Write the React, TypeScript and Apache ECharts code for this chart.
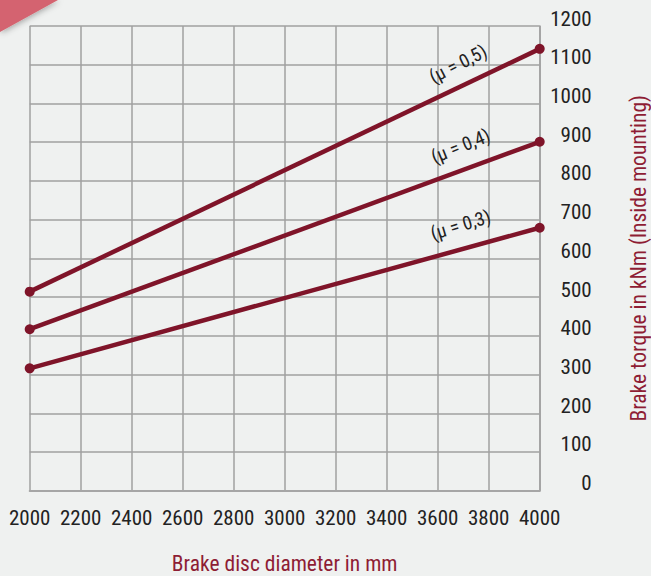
import React, { useEffect, useRef } from "react";
import * as echarts from "echarts";

const diameters = [2000, 4000];
const seriesNames = ["(μ = 0,5)", "(μ = 0,4)", "(μ = 0,3)"];
const torque05 = [514, 1141];
const torque04 = [417, 901];
const torque03 = [316, 679];
const xTicks = [2000, 2200, 2400, 2600, 2800, 3000, 3200, 3400, 3600, 3800, 4000];
const yTicks = [0, 100, 200, 300, 400, 500, 600, 700, 800, 900, 1000, 1100, 1200];
const labelAnchors = [
  [3680, 1102],
  [3690, 890],
  [3690, 686],
];
const labelRotations = [27, 22, 17];

const FONT = "'Liberation Sans Narrow', 'Roboto Condensed', 'DejaVu Sans Condensed', Roboto, sans-serif";
const LINE = "#7f1429";
const TITLE = "#8e1d34";

export default function App() {
  const ref = useRef<HTMLDivElement>(null);
  useEffect(() => {
    if (!ref.current) return;
    document.body.style.margin = "0";
    const chart = echarts.init(ref.current, undefined, { renderer: "svg" });
    const all = [torque05, torque04, torque03];
    chart.setOption({
      animation: false,
      backgroundColor: "#eff1f0",
      grid: { left: 29.7, right: 111.3, top: 26, bottom: 85.3, outerBoundsMode: "none", containLabel: false },
      xAxis: {
        type: "value",
        min: xTicks[0],
        max: xTicks[xTicks.length - 1],
        interval: xTicks[1] - xTicks[0],
        axisLine: { show: true, lineStyle: { color: "#a6a6a6", width: 2 } },
        axisTick: { show: false },
        splitLine: { show: true, lineStyle: { color: "#a0a0a0", width: 1.5 } },
        axisLabel: { color: "#222", fontFamily: FONT, fontSize: 21, margin: 17, formatter: (v: number) => String(v) },
        name: "Brake disc diameter in mm",
        nameLocation: "middle",
        nameGap: 62,
        nameTextStyle: { color: TITLE, fontFamily: FONT, fontSize: 21.5 },
      },
      yAxis: {
        type: "value",
        position: "right",
        min: yTicks[0],
        max: yTicks[yTicks.length - 1],
        interval: yTicks[1] - yTicks[0],
        axisLine: { show: true, lineStyle: { color: "#a0a0a0", width: 1.5 } },
        axisTick: { show: false },
        splitLine: { show: true, lineStyle: { color: "#a0a0a0", width: 1.5 } },
        axisLabel: {
          color: "#222",
          fontFamily: FONT,
          fontSize: 21,
          align: "right",
          margin: 52,
          verticalAlign: "bottom",
          lineHeight: 15,
          formatter: (v: number) => String(v),
        },
        name: "Brake torque in kNm (Inside mounting)",
        nameLocation: "middle",
        nameRotate: 90,
        nameGap: 88,
        nameTextStyle: { color: TITLE, fontFamily: FONT, fontSize: 21.5 },
      },
      series: all.map((vals, i) => ({
        type: "line",
        name: seriesNames[i],
        data: diameters.map((d, j) => [d, vals[j]]),
        symbol: "circle",
        symbolSize: 10,
        showSymbol: true,
        lineStyle: { color: LINE, width: 4.5 },
        itemStyle: { color: LINE },
        markPoint: {
          symbol: "circle",
          symbolSize: 0,
          data: [{ coord: labelAnchors[i] }],
          label: {
            show: true,
            position: "inside",
            formatter: seriesNames[i],
            rotate: labelRotations[i],
            color: "#222",
            fontFamily: FONT,
            fontSize: 19,
          },
        },
      })),
      graphic: [
        {
          type: "polygon",
          shape: { points: [[0, 0], [58, 0], [0, 32]] },
          style: { fill: "#d4646f", shadowBlur: 6, shadowColor: "rgba(0,0,0,0.35)", shadowOffsetX: 1, shadowOffsetY: 1 },
        },
      ],
    });
    return () => chart.dispose();
  }, []);
  return (
    <div
      ref={ref}
      style={{ position: "fixed", left: 0, top: 0, width: 651, height: 576 }}
    />
  );
}
